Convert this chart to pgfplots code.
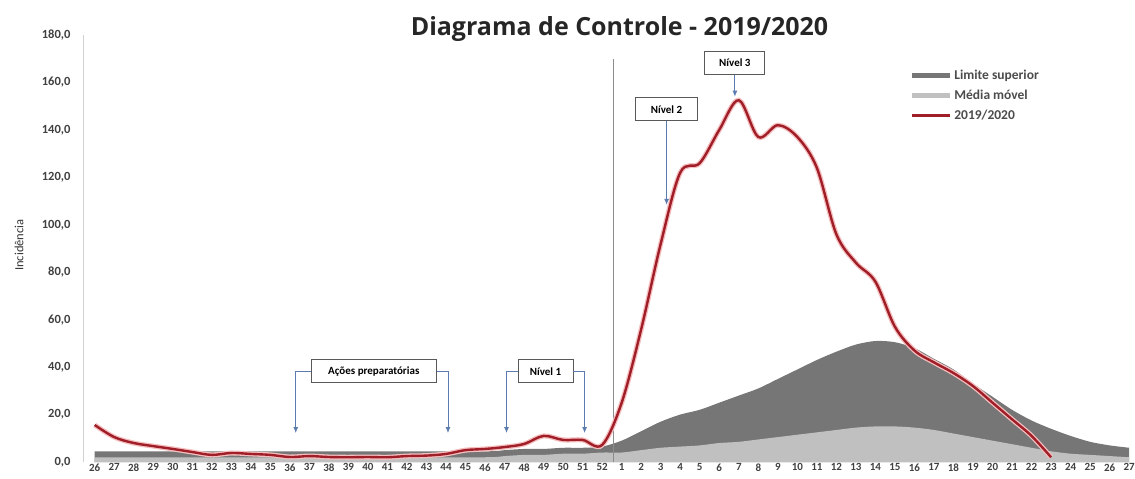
\documentclass[border=0pt]{standalone}
\usepackage{pgfplots}
\pgfplotsset{compat=1.18}
\usepackage{fontspec}
\setmainfont{Carlito}
\newfontfamily\titlefont{Open Sans}
\usetikzlibrary{arrows.meta}

\definecolor{limsup}{RGB}{118,118,118}
\definecolor{media}{RGB}{192,192,192}
\definecolor{serie}{RGB}{160,30,40}
\definecolor{halo}{RGB}{245,190,190}
\definecolor{seta}{RGB}{92,124,176}

% incidencia semanal, semana 26/2019 = indice 0 ... semana 27/2020 = indice 53
\pgfplotstableread{
i lim med
0 4.5 2
5 4.5 2
10 4.5 2
15 4.5 2
20 4.5 2
21 5 2.5
22 5.5 3
23 5.5 3
24 6 3.5
25 6 3.5
26 6.5 4
27 9 4
28 13 5
29 17 6
30 20 6.5
31 22 7
32 25 8
33 28 8.5
34 31 9.5
35 35 10.5
36 39 11.5
37 43 12.5
38 46.5 13.5
39 49.5 14.5
40 51 15
41 50.5 15
42 48 14.5
43 43.5 13.5
44 39 12
45 33 10.5
46 27.5 9
47 22 7.5
48 17.5 6
49 14 4.5
50 11 3.5
51 8.5 3
52 7 2.5
53 6 2
}\limites

\pgfplotstableread{
i inc
0 15.6
1 10.5
2 8
3 6.7
4 5.5
5 4.2
6 3.0
7 3.8
8 3.4
9 3.0
10 2.1
11 2.5
12 2.1
13 2.0
14 2.1
15 2.0
16 2.5
17 2.7
18 3.4
19 5.0
20 5.5
21 6.3
22 7.6
23 11
24 9.3
25 9.3
26 7.2
27 25
28 56
29 92
30 122
31 126
32 140
33 152.5
34 137
35 142
36 137
37 124
38 96
39 84
40 76
41 57
42 47
43 42
44 37.5
45 32
46 25
47 18
48 11
49 2
}\incidencia

\begin{document}
\begin{tikzpicture}[
  caixa/.style={draw=black!65, fill=white, line width=0.8pt, inner sep=0pt,
    minimum height=23pt, font=\fontsize{11}{12}\selectfont\bfseries},
  seta/.style={draw=seta, line width=0.9pt, -{Latex[length=6pt,width=5pt]}},
]
\useasboundingbox (-83pt,-17pt) rectangle (1052pt,462pt);
\begin{axis}[
  scale only axis,
  width=1052pt, height=427pt,
  xmin=-0.6, xmax=53.3,
  ymin=0, ymax=180,
  axis x line=bottom, axis y line=left,
  x axis line style={draw=none},
  y axis line style={draw=black!18, line width=0.8pt, -},
  xtick={0,...,53},
  xticklabels={26,27,28,29,30,31,32,33,34,35,36,37,38,39,40,41,42,43,44,45,46,47,48,49,50,51,52,
    1,2,3,4,5,6,7,8,9,10,11,12,13,14,15,16,17,18,19,20,21,22,23,24,25,26,27},
  ytick={0,20,...,180},
  major tick length=0pt,
  tick style={draw=none},
  xticklabel style={yshift=2pt, font=\fontsize{11}{12}\selectfont\bfseries, text=black!75},
  yticklabel style={xshift=-9pt, font=\fontsize{12.5}{13}\selectfont\bfseries, text=black!75,
    /pgf/number format/.cd, fixed, fixed zerofill, precision=1,
    use comma, assume math mode=true},
  clip=false,
  legend style={at={(axis cs:41.6,167)}, anchor=north west, draw=none, fill=none,
    font=\fontsize{13.5}{14}\selectfont\bfseries, text=black!70,
    row sep=5pt, /tikz/every even column/.append style={column sep=2pt}},
  legend cell align=left,
  legend image code/.code={\draw[#1] (0pt,0pt) -- (38pt,0pt);},
]
\addplot[fill=limsup, draw=none, smooth, forget plot] table[x=i, y=lim] {\limites} \closedcycle;
\addplot[fill=media, draw=none, smooth, forget plot] table[x=i, y=med] {\limites} \closedcycle;

\draw[black!45, line width=0.8pt] (axis cs:26.6,0) -- (axis cs:26.6,170);

\addplot[halo, line width=5pt, smooth, tension=0.55, forget plot] table[x=i, y=inc] {\incidencia};
\addplot[serie, line width=2.4pt, smooth, tension=0.55, forget plot] table[x=i, y=inc] {\incidencia};

\addlegendimage{line width=4.5pt, limsup}
\addlegendentry{Limite superior}
\addlegendimage{line width=4.5pt, media}
\addlegendentry{Média móvel}
\addlegendimage{line width=2.2pt, serie}
\addlegendentry{2019/2020}

% anotacoes
\node[caixa, minimum width=125pt] (acoes) at (axis cs:14.3,38.2) {Ações preparatórias};
\draw[seta] (acoes.west) -| (axis cs:10.3,12.2);
\draw[seta] (acoes.east) -| (axis cs:18.1,12.2);

\node[caixa, minimum width=55pt] (n1) at (axis cs:23.1,38.2) {Nível 1};
\draw[seta] (n1.west) -| (axis cs:21.1,12.2);
\draw[seta] (n1.east) -| (axis cs:25.1,12.2);

\node[caixa, minimum width=62pt] (n2) at (axis cs:29.3,148.7) {Nível 2};
\draw[seta] (n2.south) -- (axis cs:29.3,108.4);

\node[caixa, minimum width=60pt] (n3) at (axis cs:32.8,168.2) {Nível 3};
\draw[seta] (n3.south) -- (axis cs:32.8,154);

\node[rotate=90, font=\fontsize{12.5}{13}\selectfont, text=black!80]
  at ([xshift=-64pt]rel axis cs:0,0.508) {Incidência};
\node[font=\titlefont\fontsize{25}{27}\selectfont\bfseries, text=black!85]
  at ([yshift=6pt]rel axis cs:0.51,1) {Diagrama de Controle - 2019/2020};
\end{axis}
\end{tikzpicture}
\end{document}
